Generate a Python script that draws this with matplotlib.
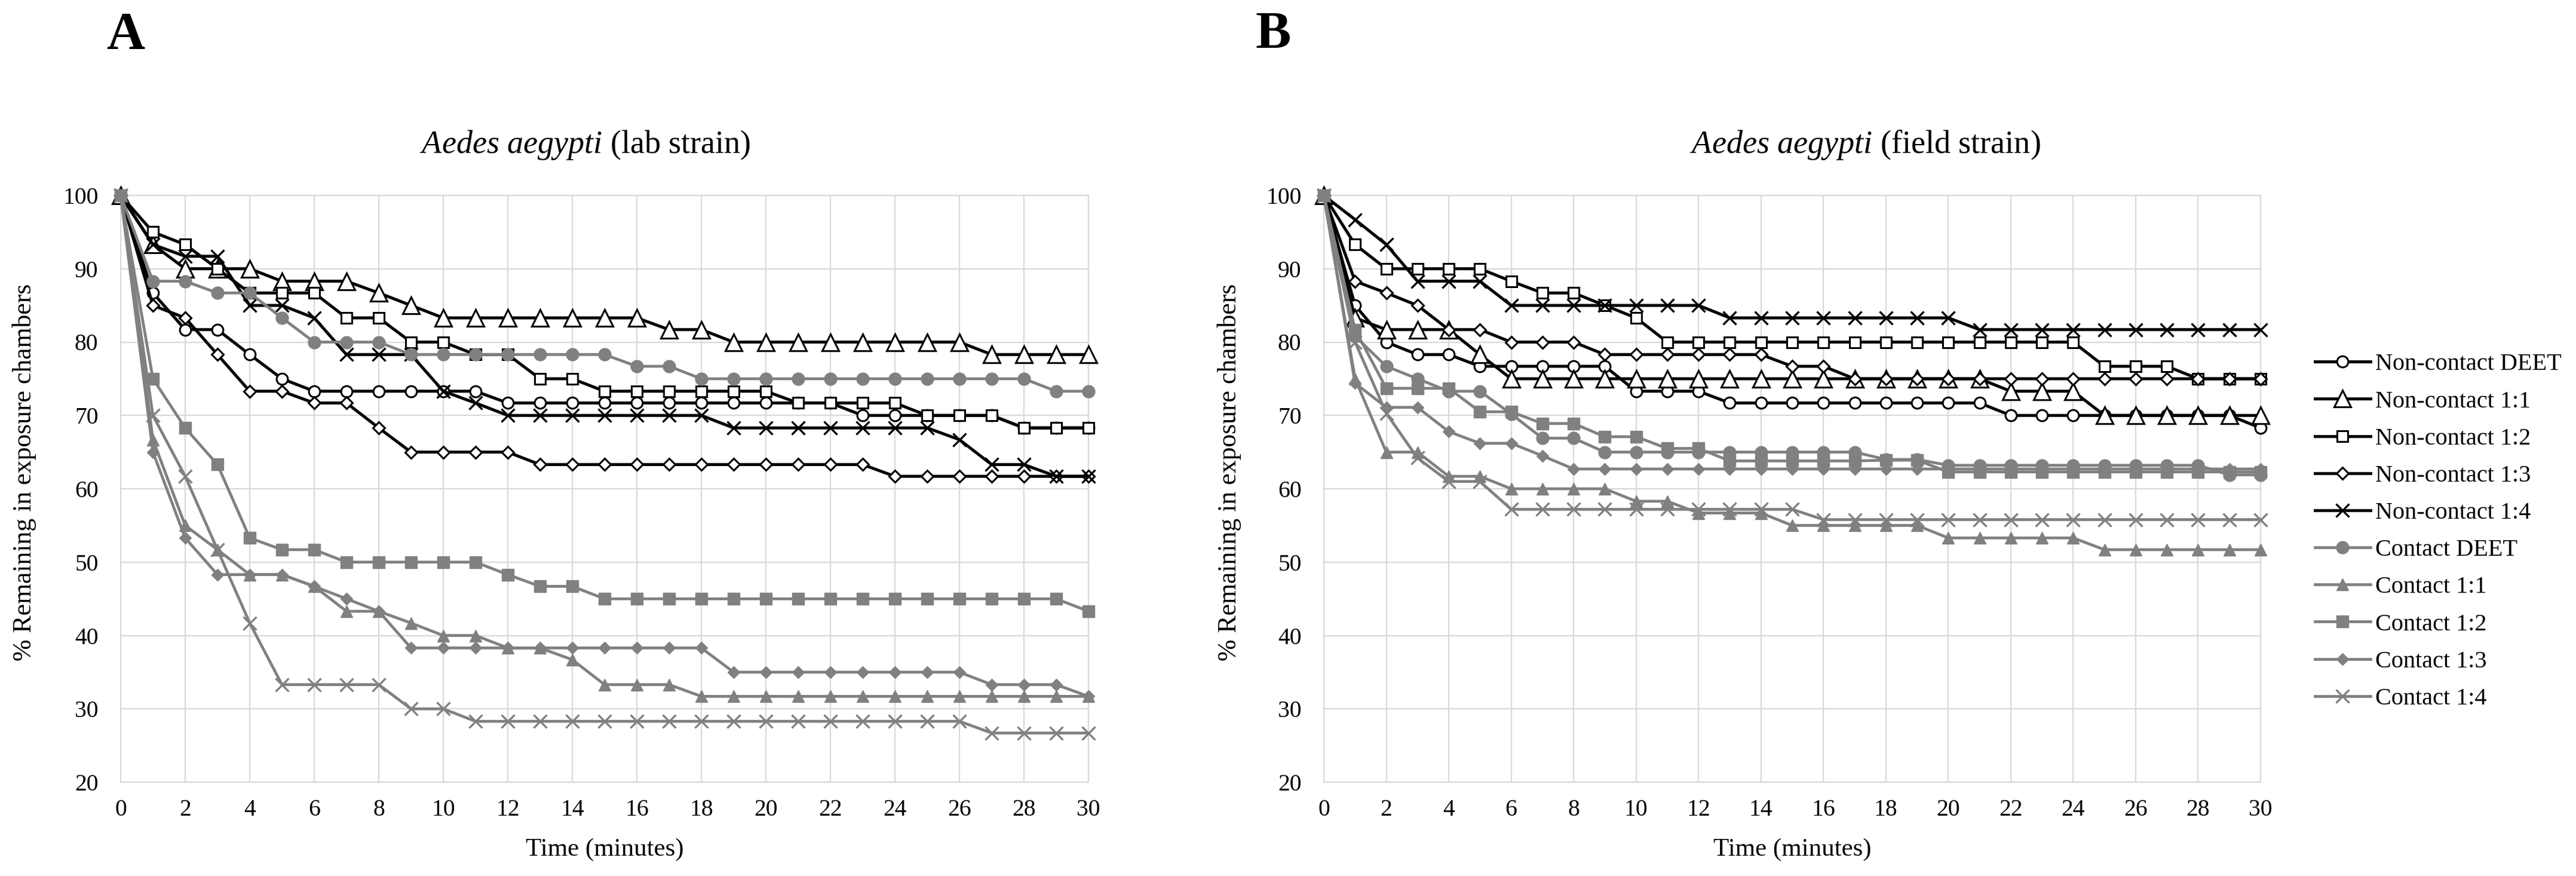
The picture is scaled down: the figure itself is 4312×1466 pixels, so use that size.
import matplotlib
matplotlib.use("Agg")
import matplotlib.pyplot as plt

plt.rcParams['font.family'] = ['Liberation Serif', 'DejaVu Serif']
plt.rcParams['mathtext.fontset'] = 'custom'
plt.rcParams['mathtext.rm'] = 'Liberation Serif'
plt.rcParams['mathtext.it'] = 'Liberation Serif:italic'

# ---------------- data ----------------
time_min = list(range(31))
x_ticks = list(range(0, 31, 2))
y_ticks = list(range(20, 101, 10))

series_labels = ["Non-contact DEET", "Non-contact 1:1", "Non-contact 1:2",
                 "Non-contact 1:3", "Non-contact 1:4", "Contact DEET",
                 "Contact 1:1", "Contact 1:2", "Contact 1:3", "Contact 1:4"]

title_A = r"$\it{Aedes\ aegypti}$ (lab strain)"
title_B = r"$\it{Aedes\ aegypti}$ (field strain)"
x_label = "Time (minutes)"
y_label = "% Remaining in exposure chambers"

# Panel A (lab strain)
nc_deet_A = [100, 86.7, 81.7, 81.7, 78.3, 75.0, 73.3, 73.3, 73.3, 73.3, 73.3, 73.3, 71.7, 71.7, 71.7, 71.7,
             71.7, 71.7, 71.7, 71.7, 71.7, 71.7, 71.7, 70.0, 70.0, 70.0, 70.0, 70.0, 68.3, 68.3, 68.3]
nc_11_A = [100, 93.3, 90.0, 90.0, 90.0, 88.3, 88.3, 88.3, 86.7, 85.0, 83.3, 83.3, 83.3, 83.3, 83.3, 83.3,
           83.3, 81.7, 81.7, 80.0, 80.0, 80.0, 80.0, 80.0, 80.0, 80.0, 80.0, 78.3, 78.3, 78.3, 78.3]
nc_12_A = [100, 95.0, 93.3, 90.0, 86.7, 86.7, 86.7, 83.3, 83.3, 80.0, 80.0, 78.3, 78.3, 75.0, 75.0, 73.3,
           73.3, 73.3, 73.3, 73.3, 73.3, 71.7, 71.7, 71.7, 71.7, 70.0, 70.0, 70.0, 68.3, 68.3, 68.3]
nc_13_A = [100, 85.0, 83.3, 78.3, 73.3, 73.3, 71.7, 71.7, 68.3, 65.0, 65.0, 65.0, 65.0, 63.3, 63.3, 63.3,
           63.3, 63.3, 63.3, 63.3, 63.3, 63.3, 63.3, 63.3, 61.7, 61.7, 61.7, 61.7, 61.7, 61.7, 61.7]
nc_14_A = [100, 93.3, 91.7, 91.7, 85.0, 85.0, 83.3, 78.3, 78.3, 78.3, 73.3, 71.7, 70.0, 70.0, 70.0, 70.0,
           70.0, 70.0, 70.0, 68.3, 68.3, 68.3, 68.3, 68.3, 68.3, 68.3, 66.7, 63.3, 63.3, 61.7, 61.7]
c_deet_A = [100, 88.3, 88.3, 86.7, 86.7, 83.3, 80.0, 80.0, 80.0, 78.3, 78.3, 78.3, 78.3, 78.3, 78.3, 78.3,
            76.7, 76.7, 75.0, 75.0, 75.0, 75.0, 75.0, 75.0, 75.0, 75.0, 75.0, 75.0, 75.0, 73.3, 73.3]
c_11_A = [100, 66.7, 55.0, 51.7, 48.3, 48.3, 46.7, 43.3, 43.3, 41.7, 40.0, 40.0, 38.3, 38.3, 36.7, 33.3,
          33.3, 33.3, 31.7, 31.7, 31.7, 31.7, 31.7, 31.7, 31.7, 31.7, 31.7, 31.7, 31.7, 31.7, 31.7]
c_12_A = [100, 75.0, 68.3, 63.3, 53.3, 51.7, 51.7, 50.0, 50.0, 50.0, 50.0, 50.0, 48.3, 46.7, 46.7, 45.0,
          45.0, 45.0, 45.0, 45.0, 45.0, 45.0, 45.0, 45.0, 45.0, 45.0, 45.0, 45.0, 45.0, 45.0, 43.3]
c_13_A = [100, 65.0, 53.3, 48.3, 48.3, 48.3, 46.7, 45.0, 43.3, 38.3, 38.3, 38.3, 38.3, 38.3, 38.3, 38.3,
          38.3, 38.3, 38.3, 35.0, 35.0, 35.0, 35.0, 35.0, 35.0, 35.0, 35.0, 33.3, 33.3, 33.3, 31.7]
c_14_A = [100, 70.0, 61.7, 51.7, 41.7, 33.3, 33.3, 33.3, 33.3, 30.0, 30.0, 28.3, 28.3, 28.3, 28.3, 28.3,
          28.3, 28.3, 28.3, 28.3, 28.3, 28.3, 28.3, 28.3, 28.3, 28.3, 28.3, 26.7, 26.7, 26.7, 26.7]

# Panel B (field strain)
nc_deet_B = [100, 85.0, 80.0, 78.3, 78.3, 76.7, 76.7, 76.7, 76.7, 76.7, 73.3, 73.3, 73.3, 71.7, 71.7, 71.7,
             71.7, 71.7, 71.7, 71.7, 71.7, 71.7, 70.0, 70.0, 70.0, 70.0, 70.0, 70.0, 70.0, 70.0, 68.3]
nc_11_B = [100, 83.3, 81.7, 81.7, 81.7, 78.3, 75.0, 75.0, 75.0, 75.0, 75.0, 75.0, 75.0, 75.0, 75.0, 75.0,
           75.0, 75.0, 75.0, 75.0, 75.0, 75.0, 73.3, 73.3, 73.3, 70.0, 70.0, 70.0, 70.0, 70.0, 70.0]
nc_12_B = [100, 93.3, 90.0, 90.0, 90.0, 90.0, 88.3, 86.7, 86.7, 85.0, 83.3, 80.0, 80.0, 80.0, 80.0, 80.0,
           80.0, 80.0, 80.0, 80.0, 80.0, 80.0, 80.0, 80.0, 80.0, 76.7, 76.7, 76.7, 75.0, 75.0, 75.0]
nc_13_B = [100, 88.3, 86.7, 85.0, 81.7, 81.7, 80.0, 80.0, 80.0, 78.3, 78.3, 78.3, 78.3, 78.3, 78.3, 76.7,
           76.7, 75.0, 75.0, 75.0, 75.0, 75.0, 75.0, 75.0, 75.0, 75.0, 75.0, 75.0, 75.0, 75.0, 75.0]
nc_14_B = [100, 96.7, 93.3, 88.3, 88.3, 88.3, 85.0, 85.0, 85.0, 85.0, 85.0, 85.0, 85.0, 83.3, 83.3, 83.3,
           83.3, 83.3, 83.3, 83.3, 83.3, 81.7, 81.7, 81.7, 81.7, 81.7, 81.7, 81.7, 81.7, 81.7, 81.7]
c_deet_B = [100, 80.8, 76.7, 75.0, 73.3, 73.3, 70.2, 66.9, 66.9, 65.0, 65.0, 65.0, 65.0, 65.0, 65.0, 65.0,
            65.0, 65.0, 64.0, 64.0, 63.2, 63.2, 63.2, 63.2, 63.2, 63.2, 63.2, 63.2, 63.2, 61.9, 61.9]
c_11_B = [100, 75.0, 65.0, 65.0, 61.7, 61.7, 60.0, 60.0, 60.0, 60.0, 58.3, 58.3, 56.7, 56.7, 56.7, 55.0,
          55.0, 55.0, 55.0, 55.0, 53.3, 53.3, 53.3, 53.3, 53.3, 51.7, 51.7, 51.7, 51.7, 51.7, 51.7]
c_12_B = [100, 81.7, 73.7, 73.7, 73.7, 70.5, 70.5, 68.9, 68.9, 67.1, 67.1, 65.5, 65.5, 63.8, 63.8, 63.8,
          63.8, 63.8, 63.9, 63.9, 62.3, 62.3, 62.3, 62.3, 62.3, 62.3, 62.3, 62.3, 62.3, 62.3, 62.3]
c_13_B = [100, 74.4, 71.1, 71.1, 67.8, 66.2, 66.2, 64.5, 62.7, 62.7, 62.7, 62.7, 62.7, 62.7, 62.7, 62.7,
          62.7, 62.7, 62.7, 62.7, 62.7, 62.7, 62.7, 62.7, 62.7, 62.7, 62.7, 62.7, 62.7, 62.7, 62.7]
c_14_B = [100, 80.0, 70.3, 64.2, 61.0, 61.0, 57.2, 57.2, 57.2, 57.2, 57.2, 57.2, 57.2, 57.2, 57.2, 57.2,
          55.8, 55.8, 55.8, 55.8, 55.8, 55.8, 55.8, 55.8, 55.8, 55.8, 55.8, 55.8, 55.8, 55.8, 55.8]

panel_A = [nc_deet_A, nc_11_A, nc_12_A, nc_13_A, nc_14_A, c_deet_A, c_11_A, c_12_A, c_13_A, c_14_A]
panel_B = [nc_deet_B, nc_11_B, nc_12_B, nc_13_B, nc_14_B, c_deet_B, c_11_B, c_12_B, c_13_B, c_14_B]

# ---------------- styles ----------------
BLACK = '#000000'
GREY = '#808080'
GRID = '#d9d9d9'
styles = [
    dict(marker='o', color=BLACK, mfc='white', mec=BLACK, ms=13.5, mew=2.2, lw=3.6),
    dict(marker='^', color=BLACK, mfc='white', mec=BLACK, ms=20, mew=2.2, lw=3.6),
    dict(marker='s', color=BLACK, mfc='white', mec=BLACK, ms=13.5, mew=2.2, lw=3.6),
    dict(marker='D', color=BLACK, mfc='white', mec=BLACK, ms=10, mew=2.2, lw=3.6),
    dict(marker='x', color=BLACK, mfc=BLACK, mec=BLACK, ms=16, mew=2.4, lw=3.6),
    dict(marker='o', color=GREY, mfc=GREY, mec=GREY, ms=15, mew=1.0, lw=3.4),
    dict(marker='^', color=GREY, mfc=GREY, mec=GREY, ms=15, mew=1.0, lw=3.4),
    dict(marker='s', color=GREY, mfc=GREY, mec=GREY, ms=15, mew=1.0, lw=3.4),
    dict(marker='D', color=GREY, mfc=GREY, mec=GREY, ms=10.5, mew=1.0, lw=3.4),
    dict(marker='x', color=GREY, mfc=GREY, mec=GREY, ms=16, mew=2.4, lw=3.4),
]

W, H = 4312, 1466
fig = plt.figure(figsize=(W / 100, H / 100), dpi=100)


def rect(x0, x1, ytop, ybot):
    return [x0 / W, 1 - ybot / H, (x1 - x0) / W, (ybot - ytop) / H]


def fx(x):
    return x / W


def fy(y):
    return 1 - y / H


axA = fig.add_axes(rect(202, 1822, 327, 1309))
axB = fig.add_axes(rect(2216, 3784, 327, 1309))

handles = []
for ax, data in ((axA, panel_A), (axB, panel_B)):
    for i, (vals, st) in enumerate(zip(data, styles)):
        ln, = ax.plot(time_min, vals, marker=st['marker'], color=st['color'],
                      markerfacecolor=st['mfc'], markeredgecolor=st['mec'],
                      markersize=st['ms'], markeredgewidth=st['mew'],
                      linewidth=st['lw'], clip_on=False, zorder=3 + i,
                      label=series_labels[i])
        if ax is axB:
            handles.append(ln)
    ax.set_xlim(0, 30)
    ax.set_ylim(20, 100)
    ax.set_xticks(x_ticks)
    ax.set_yticks(y_ticks)
    ax.grid(True, color=GRID, linewidth=1.6)
    ax.set_axisbelow(True)
    for s in ax.spines.values():
        s.set_color(GRID)
        s.set_linewidth(1.6)
    ax.tick_params(axis='both', length=0, labelsize=28.5, colors='black')
    ax.tick_params(axis='x', pad=20)
    ax.tick_params(axis='y', pad=27)

# titles, panel letters, axis labels
fig.text(fx(980), fy(242), title_A, fontsize=39, ha='center', va='center')
fig.text(fx(3122), fy(242), title_B, fontsize=39, ha='center', va='center')
fig.text(fx(210), fy(59), "A", fontsize=64, fontweight='bold', ha='center', va='center')
fig.text(fx(2131), fy(59), "B", fontsize=64, fontweight='bold', ha='center', va='center')
fig.text(fx(1012), fy(1422), x_label, fontsize=31, ha='center', va='center')
fig.text(fx(3000), fy(1422), x_label, fontsize=31, ha='center', va='center')
fig.text(fx(41), fy(790), y_label, fontsize=31.5, rotation=90, ha='center', va='center')
fig.text(fx(2058), fy(790), y_label, fontsize=31.5, rotation=90, ha='center', va='center')

fig.legend(handles, series_labels, loc='center left',
           bbox_to_anchor=(fx(3875), fy(889.5)), frameon=False, fontsize=29,
           handlelength=2.3, handletextpad=0.2, borderpad=0, borderaxespad=0,
           labelspacing=0.62, numpoints=1)

fig.savefig("out.png", dpi=100)
